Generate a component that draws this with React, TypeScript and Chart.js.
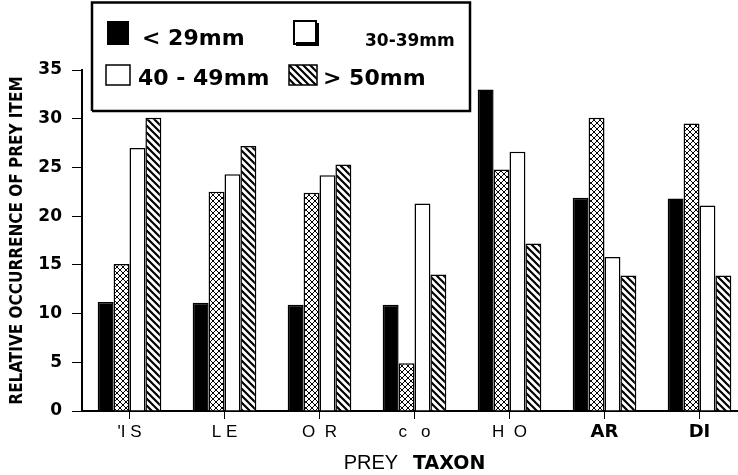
import React, { useEffect, useRef } from "react";
import { Chart, registerables } from "chart.js";

Chart.register(...registerables);

// ---- data ----
const categories = ["'I S", "L E", "O  R", "c   o", "H  O", "AR", "DI"];
const boldCategories = ["AR", "DI"];
const seriesLabels = ["< 29mm", "30-39mm", "40 - 49mm", "> 50mm"];
const under29 = [11.2, 11.1, 10.9, 10.9, 33.0, 21.9, 21.8];
const from30to39 = [15.1, 22.5, 22.4, 4.9, 24.8, 30.1, 29.5];
const from40to49 = [27.0, 24.3, 24.2, 21.3, 26.6, 15.8, 21.1];
const over50 = [30.1, 27.2, 25.3, 14.0, 17.2, 13.9, 13.9];
const yMin = 0;
const yMax = 35;
const yStep = 5;
const yAxisTitle = "RELATIVE OCCURRENCE OF PREY ITEM";
const xTitleParts = ["PREY", "TAXON"];

function makePattern(kind: "cross" | "diag"): CanvasPattern | string {
  const s = kind === "cross" ? 6 : 7;
  const c = document.createElement("canvas");
  c.width = s;
  c.height = s;
  const g = c.getContext("2d");
  if (!g) return "#fff";
  g.fillStyle = "#fff";
  g.fillRect(0, 0, s, s);
  g.strokeStyle = "#000";
  if (kind === "cross") {
    g.lineWidth = 1;
    g.beginPath();
    g.moveTo(0, 0);
    g.lineTo(s, s);
    g.moveTo(s, 0);
    g.lineTo(0, s);
    g.stroke();
  } else {
    g.lineWidth = 2.2;
    g.beginPath();
    g.moveTo(-1, -1);
    g.lineTo(s + 1, s + 1);
    g.moveTo(-1, s - 1);
    g.lineTo(1, s + 1);
    g.moveTo(s - 1, -1);
    g.lineTo(s + 1, 1);
    g.stroke();
  }
  return g.createPattern(c, "repeat") || "#fff";
}

const boldFont = "'DejaVu Sans', 'Liberation Sans', sans-serif";

const overlayPlugin = {
  id: "overlay",
  afterDraw(chart: any) {
    const ctx: CanvasRenderingContext2D = chart.ctx;
    const diag = makePattern("diag");
    ctx.save();
    // legend box
    ctx.strokeStyle = "#000";
    ctx.lineWidth = 2.5;
    ctx.beginPath();
    ctx.moveTo(92, 111);
    ctx.lineTo(92, 2.5);
    ctx.lineTo(470, 2.5);
    ctx.lineTo(470, 111);
    ctx.lineTo(92, 111);
    ctx.stroke();

    // item 1: black square
    ctx.fillStyle = "#000";
    ctx.fillRect(107, 21, 22, 24);
    // item 2: shadowed square
    ctx.fillStyle = "#fff";
    ctx.fillRect(294, 21, 22, 23);
    ctx.lineWidth = 2;
    ctx.strokeRect(294, 21, 22, 23);
    ctx.lineWidth = 4;
    ctx.beginPath();
    ctx.moveTo(296, 44);
    ctx.lineTo(317, 44);
    ctx.lineTo(317, 23);
    ctx.stroke();
    // item 3: hollow square
    ctx.lineWidth = 1.5;
    ctx.strokeRect(106, 65, 24, 20);
    // item 4: hatched square
    ctx.fillStyle = diag as any;
    ctx.fillRect(289, 65, 28, 20);
    ctx.lineWidth = 1.5;
    ctx.strokeRect(289, 65, 28, 20);

    ctx.fillStyle = "#000";
    ctx.textBaseline = "alphabetic";
    ctx.textAlign = "left";
    ctx.font = `bold 22px ${boldFont}`;
    ctx.fillText(seriesLabels[0], 142, 45);
    ctx.fillText(seriesLabels[2], 138, 85);
    ctx.fillText(seriesLabels[3], 323, 85);
    ctx.font = `bold 17px ${boldFont}`;
    ctx.fillText(seriesLabels[1], 365, 46);

    // x-axis title in two weights
    const area = chart.chartArea;
    const cx = (area.left + area.right) / 2;
    const f1 = "20px 'Liberation Sans', Arial, sans-serif";
    const f2 = `bold 19px ${boldFont}`;
    ctx.font = f1;
    const w1 = ctx.measureText(xTitleParts[0]).width;
    ctx.font = f2;
    const w2 = ctx.measureText(xTitleParts[1]).width;
    const gap = 15;
    const x0 = cx - (w1 + gap + w2) / 2;
    ctx.font = f1;
    ctx.fillText(xTitleParts[0], x0, 469);
    ctx.font = f2;
    ctx.fillText(xTitleParts[1], x0 + w1 + gap, 469);
    ctx.restore();
  },
};

export default function App() {
  const ref = useRef<HTMLCanvasElement | null>(null);
  useEffect(() => {
    if (!ref.current) return;
    const cross = makePattern("cross");
    const diag = makePattern("diag");
    const chart = new Chart(ref.current, {
      type: "bar",
      data: {
        labels: categories,
        datasets: [
          { label: seriesLabels[0], data: under29, backgroundColor: "#000", borderColor: "#000", borderWidth: 1.5 },
          { label: seriesLabels[1], data: from30to39, backgroundColor: cross as any, borderColor: "#000", borderWidth: 1.5 },
          { label: seriesLabels[2], data: from40to49, backgroundColor: "#fff", borderColor: "#000", borderWidth: 1.5 },
          { label: seriesLabels[3], data: over50, backgroundColor: diag as any, borderColor: "#000", borderWidth: 1.5 },
        ],
      },
      options: {
        animation: false,
        responsive: true,
        maintainAspectRatio: false,
        layout: { padding: { top: 70, right: 13, left: 0, bottom: 0 } },
        datasets: { bar: { categoryPercentage: 0.67, barPercentage: 1 } },
        plugins: { legend: { display: false }, tooltip: { enabled: false } },
        scales: {
          x: {
            afterFit: (s: any) => {
              s.height = 64;
            },
            grid: { offset: false, drawOnChartArea: false, tickLength: 8, color: "#000", lineWidth: 1 },
            border: { display: true, color: "#000", width: 2 },
            ticks: {
              color: "#000",
              padding: 3,
              autoSkip: false,
              maxRotation: 0,
              font: (c: any) => {
                const lab = categories[c.index];
                return boldCategories.includes(lab)
                  ? { family: boldFont, size: 18, weight: "bold" }
                  : { family: "'Liberation Sans', Arial, sans-serif", size: 17, weight: "normal" };
              },
            },
          },
          y: {
            min: yMin,
            max: yMax,
            afterFit: (s: any) => {
              s.width = 82;
            },
            grid: { drawOnChartArea: false, tickLength: 10, color: "#000", lineWidth: 1 },
            border: { display: true, color: "#000", width: 2 },
            ticks: {
              stepSize: yStep,
              color: "#000",
              padding: 10,
              font: { family: boldFont, size: 17, weight: "bold" },
            },
            title: {
              display: true,
              text: yAxisTitle,
              color: "#000",
              padding: { top: 7, bottom: 0 },
              font: { family: "'Liberation Sans Narrow', 'DejaVu Sans Condensed', sans-serif", size: 17, weight: "bold" },
            },
          },
        },
      },
      plugins: [overlayPlugin],
    } as any);
    return () => chart.destroy();
  }, []);
  return (
    <div style={{ position: "fixed", left: 0, top: 0, width: 738, height: 475, overflow: "hidden", background: "#fff" }}>
      <div style={{ position: "absolute", left: 0, top: 0, width: 760, height: 475 }}>
        <canvas ref={ref} />
      </div>
    </div>
  );
}
